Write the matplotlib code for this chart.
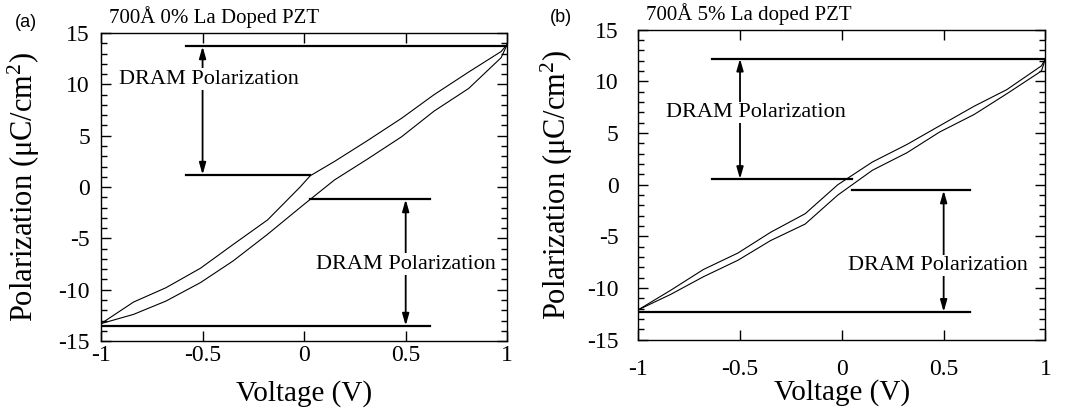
import matplotlib
matplotlib.use("Agg")
import matplotlib.pyplot as plt
from matplotlib.ticker import MultipleLocator

# (a) 700A 0% La doped PZT -- hysteresis branches
volt_a = [-1.0, -0.84, -0.68, -0.51, -0.35, -0.18, -0.02, 0.03, 0.15, 0.31, 0.48, 0.64, 0.81, 0.97, 1.0]
pol_a_upper = [-13.3, -11.2, -9.8, -7.9, -5.6, -3.2, 0.0, 1.1, 2.5, 4.5, 6.7, 9.0, 11.2, 13.2, 13.9]
pol_a_lower = [-13.3, -12.4, -11.1, -9.3, -7.2, -4.6, -2.0, -1.2, 0.7, 2.7, 4.9, 7.4, 9.6, 12.6, 13.9]
dram_a_level = [13.7, 1.2, -1.2, -13.5]
dram_a_start = [-0.58, -0.58, 0.03, -1.0]
dram_a_end = [1.0, 0.03, 0.62, 0.62]

# (b) 700A 5% La doped PZT
volt_b = [-1.0, -0.84, -0.68, -0.51, -0.35, -0.18, -0.02, 0.15, 0.32, 0.48, 0.65, 0.81, 0.98, 1.0]
pol_b_upper = [-12.1, -10.2, -8.2, -6.6, -4.6, -2.8, 0.0, 2.2, 3.9, 5.7, 7.6, 9.2, 11.5, 12.2]
pol_b_lower = [-12.1, -10.6, -8.9, -7.3, -5.4, -3.8, -1.0, 1.4, 3.1, 5.1, 6.8, 8.8, 11.0, 12.2]
dram_b_level = [12.2, 0.55, -0.55, -12.3]
dram_b_start = [-0.64, -0.64, 0.05, -1.0]
dram_b_end = [1.0, 0.05, 0.63, 0.63]

arrow_x = [-0.5, 0.5]
x_ticks = [-1, -0.5, 0, 0.5, 1]
x_ticklabels = ["-1", "-0.5", "0", "0.5", "1"]
y_ticks = [-15, -10, -5, 0, 5, 10, 15]

SERIF = "Liberation Serif"


def draw_panel(ax, volt, upper, lower, level, start, end, title, tag, text_pos,
               ytick_pad, xtick_pad, ylabel_x):
    ax.plot(volt, upper, color="k", lw=0.8)
    ax.plot(volt, lower, color="k", lw=0.8)
    for lv, s, e in zip(level, start, end):
        ax.plot([s, e], [lv, lv], color="k", lw=1.6)

    # double headed arrows between the DRAM levels
    for x, (p0, p1) in zip(arrow_x, [(level[1], level[0]), (level[2], level[3])]):
        ax.annotate("", xy=(x, p1), xytext=(x, p0),
                    arrowprops=dict(arrowstyle="<|-|>,head_length=0.7,head_width=0.2",
                                    color="k", lw=1.3, shrinkA=0, shrinkB=0))

    for (tx, ty) in text_pos:
        ax.text(tx, ty, "DRAM Polarization", family=SERIF, fontsize=16,
                ha="center", va="center",
                bbox=dict(facecolor="white", edgecolor="none", pad=1))

    ax.set_xlim(-1, 1)
    ax.set_ylim(-15, 15)
    ax.set_xticks(x_ticks)
    ax.set_xticklabels(x_ticklabels)
    ax.set_yticks(y_ticks)
    ax.yaxis.set_minor_locator(MultipleLocator(1))
    ax.tick_params(which="both", direction="in", top=True, right=True, width=1)
    ax.tick_params(which="major", length=7)
    ax.tick_params(which="minor", length=4)
    ax.tick_params(axis="y", pad=ytick_pad)
    ax.tick_params(axis="x", pad=xtick_pad)
    for lab in ax.get_xticklabels() + ax.get_yticklabels():
        lab.set_family(SERIF)
        lab.set_fontsize(17)
    for sp in ax.spines.values():
        sp.set_linewidth(1.0)

    ax.set_xlabel("Voltage (V)", family=SERIF, fontsize=21)
    ax.xaxis.set_label_coords(0.5, -0.17)
    ax.xaxis.label.set_va("center")
    ax.set_ylabel(r"Polarization ($\mathregular{\mu}$C/cm$^\mathregular{2}$)",
                  family=SERIF, fontsize=22)
    ax.yaxis.set_label_coords(ylabel_x, 0.5)
    ax.yaxis.label.set_va("center")

    ax.text(0.02, 1.015, title, transform=ax.transAxes, family=SERIF,
            fontsize=15, ha="left", va="bottom")
    ax.text(tag[0], tag[1], tag[2], transform=ax.transAxes,
            family="Liberation Sans", fontsize=13, ha="center", va="center")


def main():
    plt.rcParams["axes.unicode_minus"] = False
    plt.rcParams["mathtext.fontset"] = "custom"
    plt.rcParams["mathtext.rm"] = SERIF
    plt.rcParams["mathtext.it"] = SERIF + ":italic"

    fig = plt.figure(figsize=(10.69, 4.18), dpi=100)
    ax_a = fig.add_axes([0.0945, 0.184, 0.380, 0.737])
    ax_b = fig.add_axes([0.597, 0.187, 0.381, 0.742])

    draw_panel(ax_a, volt_a, pol_a_upper, pol_a_lower,
               dram_a_level, dram_a_start, dram_a_end,
               "700Å 0% La Doped PZT", (-0.185, 1.035, "(a)"),
               [(-0.47, 10.5), (0.5, -7.5)], 8, 3, -0.19)
    draw_panel(ax_b, volt_b, pol_b_upper, pol_b_lower,
               dram_b_level, dram_b_start, dram_b_end,
               "700Å 5% La doped PZT", (-0.19, 1.04, "(b)"),
               [(-0.42, 7.0), (0.47, -7.8)], 14, 14, -0.2)

    fig.savefig("out.png", dpi=100)


if __name__ == "__main__":
    main()
